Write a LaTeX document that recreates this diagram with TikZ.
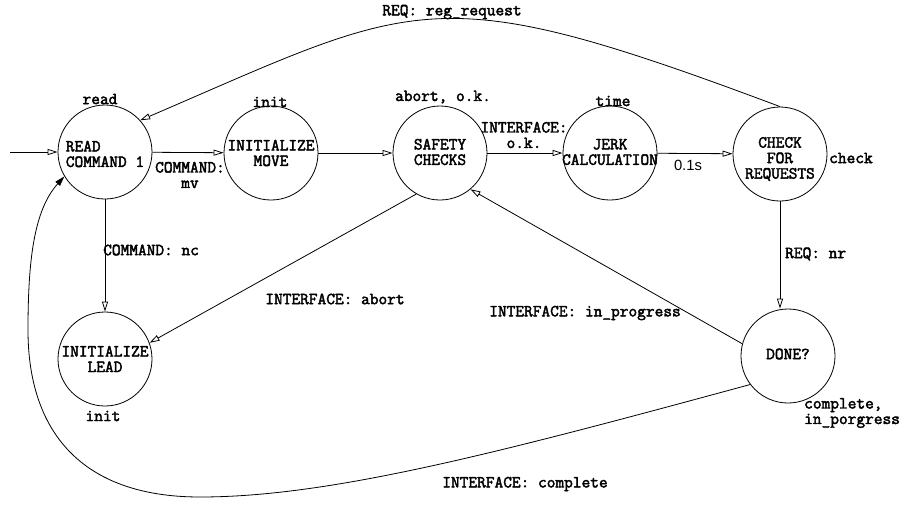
\documentclass[tikz,border=0pt]{standalone}
\usepackage{fontspec}
\setmonofont{Latin Modern Mono}[AutoFakeBold=2.5]
\setsansfont{Liberation Sans}
\usetikzlibrary{arrows.meta}
\begin{document}
\begin{tikzpicture}[x=1pt,y=-1pt,
  every node/.style={font=\ttfamily\bfseries\fontsize{16.9}{15.5}\selectfont, inner sep=1pt},
  state/.style={draw, circle, minimum size=94pt, inner sep=0pt, line width=0.8pt},
  txt/.style={align=center},
  tr/.style={line width=0.8pt, -{Triangle[open,length=10pt,width=6pt]}},
  trfill/.style={line width=0.8pt, -{Triangle[length=10pt,width=6pt]}},
  sanslbl/.style={font=\sffamily\fontsize{14.8}{15.5}\selectfont},
]
\useasboundingbox (0,0) rectangle (906,504);

% states
\node[state] (read)   at (105,152) {};
\node[state] (init)   at (271,153) {};
\node[state] (safety) at (440,153) {};
\node[state] (jerk)   at (610,153) {};
\node[state] (check)  at (780,154) {};
\node[state] (lead)   at (105,359) {};
\node[state] (done)   at (788,356) {};

\node[align=left] (read-t) at ([yshift=-2pt]read.center) {READ\\COMMAND 1};
\node[txt] (init-t)   at (init)   {INITIALIZE\\MOVE};
\node[txt] (safety-t) at ([yshift=1pt]safety.center) {SAFETY\\CHECKS};
\node[txt] (jerk-t)   at ([yshift=1pt]jerk.center) {JERK\\CALCULATION};
\node[txt] (check-t)  at ([yshift=-5pt]check.center) {CHECK\\FOR\\REQUESTS};
\node[txt] (lead-t)   at (lead)   {INITIALIZE\\LEAD};
\node[txt] (done-t)   at ([yshift=2pt]done.center) {DONE?};

% state annotations
\node (a-read)   at (100,99)  {read};
\node (a-init)   at (270,102) {init};
\node (a-safety) at (443,97)  {abort, o.k.};
\node (a-jerk)   at (613,101) {time};
\node[anchor=west] (a-check) at (828,158) {check};
\node (a-lead)   at (103,416) {init};
\node[anchor=west, align=left] (a-done) at (803,413) {complete,\\in\_porgress};

% transitions
\coordinate (entry) at (10,152);
\draw[tr] (entry) -- (read);
\draw[tr] (read) -- (init);
\draw[tr] (init) -- (safety);
\draw[tr] (safety) -- (jerk);
\draw[tr] (jerk) -- (check);
\draw[tr] (read.south) -- (lead);
\draw[tr] (check.south) -- (check.south |- done.north);
\draw[tr] (safety.240) -- (lead.20);
\draw[tr] (done.165) -- (safety.310);
\draw[tr] (check.north) .. controls (432,-24) and (420,0) .. (read.42);
\draw[trfill] (done.217) .. controls (498,453) and (330,497) .. (200,497)
  .. controls (80,497) and (28,430) .. (28,330)
  .. controls (28,260) and (34,210) .. (read.211);

% transition labels
\node (l-req)   at (452,12)  {REQ: reg\_request};
\node[txt] (l-mv) at (190,175) {COMMAND:\\mv};
\node[txt] (l-ok) at (524,135) {INTERFACE:\\o.k.};
\node[sanslbl] (l-tick) at (688,165) {0.1s};
\node[anchor=west] (l-nc) at (102,250) {COMMAND: nc};
\node (l-abort) at (335,299) {INTERFACE: abort};
\node (l-prog)  at (585,313) {INTERFACE: in\_progress};
\node[anchor=west] (l-nr) at (784,254) {REQ: nr};
\node (l-comp)  at (525,484) {INTERFACE: complete};
\end{tikzpicture}
\end{document}
